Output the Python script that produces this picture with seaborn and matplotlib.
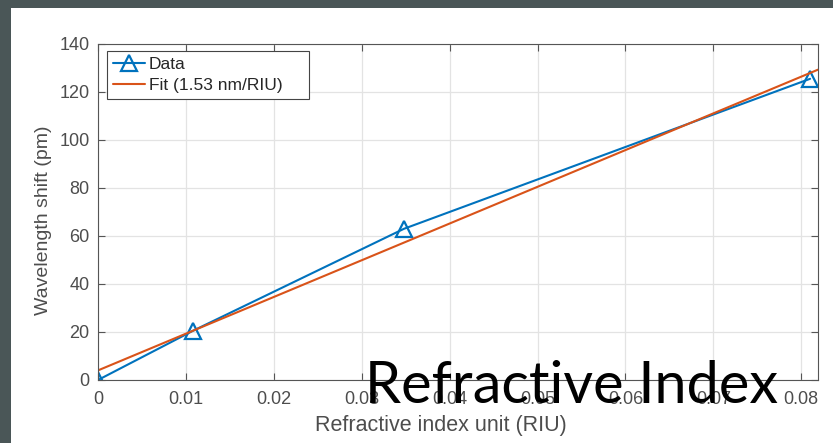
import matplotlib
matplotlib.use("Agg")
import matplotlib.pyplot as plt
import numpy as np
import pandas as pd
import seaborn as sns
from matplotlib.patches import Rectangle

# data
riu = [0.0, 0.0108, 0.0348, 0.0810]
shift_pm = [0.0, 20.5, 63.0, 125.5]
fit_slope = 1530.0   # pm/RIU (1.53 nm/RIU)
fit_intercept = 4.0  # pm
fit_label = "Fit (1.53 nm/RIU)"
x_ticks = [0, 0.01, 0.02, 0.03, 0.04, 0.05, 0.06, 0.07, 0.08]
x_tick_labels = ["0", "0.01", "0.02", "0.03", "0.04", "0.05", "0.06", "0.07", "0.08"]
y_ticks = [0, 20, 40, 60, 80, 100, 120, 140]

BLUE = "#0072BD"
ORANGE = "#D95319"
TEXT_GRAY = "#4d4d4d"

sns.set_theme(style="whitegrid")
plt.rcParams["font.family"] = ["Liberation Sans", "DejaVu Sans"]

fig = plt.figure(figsize=(8.33, 4.43), dpi=100, facecolor="#4a5657")
fig.patches.append(Rectangle((11 / 833, 0), 1, 1 - 8 / 443, transform=fig.transFigure,
                             facecolor="white", edgecolor="none", zorder=-5))
ax = fig.add_axes([98 / 833, 1 - 380 / 443, (818 - 98) / 833, (380 - 44) / 443])
ax.set_zorder(2)

df = pd.DataFrame({"riu": riu, "shift": shift_pm})
sns.lineplot(data=df, x="riu", y="shift", ax=ax, color=BLUE, linewidth=1.5,
             marker="^", markersize=12, markerfacecolor="none", markeredgecolor=BLUE,
             markeredgewidth=1.6, label="Data")

fit_x = np.array([0.0, 0.0819])
fit_df = pd.DataFrame({"riu": fit_x, "shift": fit_intercept + fit_slope * fit_x})
sns.lineplot(data=fit_df, x="riu", y="shift", ax=ax, color=ORANGE, linewidth=1.5, label=fit_label)

ax.set_xlim(0, 0.0819)
ax.set_ylim(0, 140)
ax.set_xticks(x_ticks)
ax.set_xticklabels(x_tick_labels)
ax.set_yticks(y_ticks)
ax.grid(True, color="#e3e3e3", linewidth=0.9)
ax.set_facecolor("white")
for side in ["top", "right", "bottom", "left"]:
    ax.spines[side].set_visible(True)
    ax.spines[side].set_color("#555555")
    ax.spines[side].set_linewidth(0.8)
ax.tick_params(direction="in", length=5, width=0.8, color="#555555",
               labelsize=13, labelcolor=TEXT_GRAY, top=True, right=True,
               bottom=True, left=True)
ax.tick_params(axis="x", pad=8)
ax.tick_params(axis="y", pad=6)
ax.set_xlabel("Refractive index unit (RIU)", fontsize=15.5, color=TEXT_GRAY)
ax.set_ylabel("Wavelength shift (pm)", fontsize=14, color=TEXT_GRAY)
ax.xaxis.set_label_coords(0.476, -0.105)
ax.yaxis.set_label_coords(-0.064, 0.476)

leg = ax.legend(loc="upper left", bbox_to_anchor=(0.0125, 0.0, 0.2806, 0.979), mode="expand",
                fontsize=12.5, frameon=True, fancybox=False, framealpha=1, edgecolor="#444444",
                handlelength=1.85, handletextpad=0.2, borderpad=0.35, labelspacing=0.3,
                borderaxespad=0)
leg.get_frame().set_linewidth(0.8)

fig.text(365 / 833, 1 - 403 / 443, "Refractive Index", fontsize=41.5, color="black",
         family=["Lato", "DejaVu Sans"], ha="left", va="baseline", zorder=10)

fig.savefig("out.png", dpi=100, facecolor=fig.get_facecolor())
